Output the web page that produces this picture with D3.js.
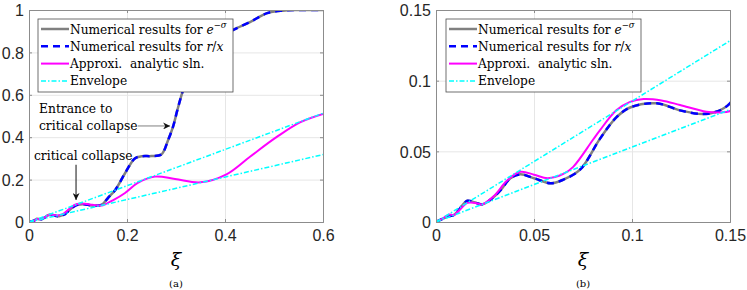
<!DOCTYPE html>
<html>
<head>
<meta charset="utf-8">
<script src="https://cdn.jsdelivr.net/npm/d3@7"></script>
<style>
  body { margin: 0; background: #fff; }
  svg { display: block; }
</style>
</head>
<body>
<div id="chart"></div>
<script>
// Numerical results (e^-sigma and r/x coincide)
const numXi = [0, 0.003, 0.0065, 0.0092, 0.011, 0.016, 0.0194, 0.0236, 0.0287, 0.033, 0.038, 0.043, 0.05,
  0.0585, 0.065, 0.0735, 0.0837, 0.092, 0.099, 0.1126, 0.1245, 0.136, 0.143, 0.15, 0.161, 0.176, 0.196,
  0.216, 0.23, 0.25, 0.27, 0.284, 0.294, 0.303, 0.314, 0.33, 0.35, 0.37, 0.39, 0.416, 0.451, 0.486, 0.518,
  0.55, 0.6];
const numVal = [0, 0.002, 0.004, 0.005, 0.0075, 0.015, 0.014, 0.0125, 0.0168, 0.0226, 0.031, 0.0337, 0.031,
  0.0274, 0.030, 0.037, 0.059, 0.074, 0.081, 0.084, 0.079, 0.0764, 0.078, 0.084, 0.113, 0.151, 0.23,
  0.30, 0.31, 0.311, 0.318, 0.387, 0.45, 0.53, 0.62, 0.73, 0.81, 0.85, 0.87, 0.905, 0.943, 0.985, 0.997,
  1.0, 1.0];

// Approximate analytic solution
const anaXi = [0, 0.004, 0.0065, 0.0092, 0.012, 0.016, 0.02, 0.0236, 0.03, 0.036, 0.043, 0.05, 0.057,
  0.065, 0.07, 0.08, 0.0837, 0.092, 0.099, 0.106, 0.115, 0.1245, 0.138, 0.145, 0.151, 0.172, 0.196,
  0.222, 0.257, 0.298, 0.35, 0.403, 0.451, 0.505, 0.553, 0.6];
const anaVal = [0, 0.003, 0.0052, 0.005, 0.0085, 0.0135, 0.0135, 0.0125, 0.019, 0.029, 0.0355, 0.0335, 0.031,
  0.034, 0.039, 0.058, 0.065, 0.079, 0.085, 0.087, 0.086, 0.0828, 0.078, 0.0775, 0.079, 0.103, 0.137,
  0.184, 0.214, 0.203, 0.187, 0.225, 0.308, 0.40, 0.47, 0.51];

// Envelope lines
const envXi = [0, 0.6];
const envUpper = [0, 0.513];
const envLower = [0, 0.318];

const panels = [
  { id: "a", left: 29, xMax: 0.6, yMax: 1, xTicks: [0, 0.2, 0.4, 0.6], yTicks: [0, 0.2, 0.4, 0.6, 0.8, 1],
    legendX: 38, annotations: true },
  { id: "b", left: 436, xMax: 0.15, yMax: 0.15, xTicks: [0, 0.05, 0.1, 0.15], yTicks: [0, 0.05, 0.1, 0.15],
    legendX: 446, annotations: false }
];

const W = 747, H = 290;
const plotW = 294, plotTop = 10, plotH = 212;
const axisColor = "#8c8c8c";
const textColor = "#262626";
const SERIF = "DejaVu Serif";
const SANS = "Liberation Sans";

const svg = d3.select("#chart").append("svg")
  .attr("width", W)
  .attr("height", H);

const defs = svg.append("defs");
defs.append("marker")
  .attr("id", "arrowHead")
  .attr("viewBox", "0 0 10 10")
  .attr("refX", 10)
  .attr("refY", 5)
  .attr("markerWidth", 9)
  .attr("markerHeight", 7)
  .attr("markerUnits", "userSpaceOnUse")
  .attr("orient", "auto")
  .append("path")
  .attr("d", "M0,0 L10,5 L0,10 L3,5 Z")
  .attr("fill", "#111");

const series = [
  { label: "num", xs: numXi, ys: numVal, color: "#808080", width: 2.5, dash: null },
  { label: "rx", xs: numXi, ys: numVal, color: "#0000ff", width: 2.5, dash: "7,5" },
  { label: "ana", xs: anaXi, ys: anaVal, color: "#ff00ff", width: 2, dash: null },
  { label: "envU", xs: envXi, ys: envUpper, color: "#00ffff", width: 1.5, dash: "5,2,1.5,2" },
  { label: "envL", xs: envXi, ys: envLower, color: "#00ffff", width: 1.5, dash: "5,2,1.5,2" }
];

panels.forEach(p => {
  const x = d3.scaleLinear().domain([0, p.xMax]).range([p.left, p.left + plotW]);
  const y = d3.scaleLinear().domain([0, p.yMax]).range([plotTop + plotH, plotTop]);
  const g = svg.append("g");

  defs.append("clipPath")
    .attr("id", `clip-${p.id}`)
    .append("rect")
    .attr("x", p.left)
    .attr("y", plotTop)
    .attr("width", plotW)
    .attr("height", plotH);

  // grid
  g.append("g")
    .attr("transform", `translate(0,${plotTop + plotH})`)
    .call(d3.axisBottom(x).tickValues(p.xTicks).tickSize(-plotH).tickFormat(""))
    .call(a => a.select(".domain").remove())
    .selectAll("line").attr("stroke", "#e6e6e6").attr("stroke-width", 1);
  g.append("g")
    .attr("transform", `translate(${p.left},0)`)
    .call(d3.axisLeft(y).tickValues(p.yTicks).tickSize(-plotW).tickFormat(""))
    .call(a => a.select(".domain").remove())
    .selectAll("line").attr("stroke", "#e6e6e6").attr("stroke-width", 1);

  // curves
  const plot = g.append("g").attr("clip-path", `url(#clip-${p.id})`);
  series.forEach(s => {
    const pts = s.xs.map((xi, i) => [xi, s.ys[i]]);
    const line = d3.line()
      .x(d => x(d[0]))
      .y(d => y(d[1]))
      .curve(s.xs.length > 2 ? d3.curveCatmullRom.alpha(0.5) : d3.curveLinear);
    plot.append("path")
      .datum(pts)
      .attr("fill", "none")
      .attr("stroke", s.color)
      .attr("stroke-width", s.width)
      .attr("stroke-dasharray", s.dash)
      .attr("d", line);
  });

  // axes with inward ticks (box style)
  const fmt = d => d3.format("")(+d.toFixed(3));
  const axes = g.append("g");
  const xAxis = axes.append("g")
    .attr("transform", `translate(0,${plotTop + plotH})`)
    .call(d3.axisBottom(x).tickValues(p.xTicks).tickSize(-3).tickPadding(8).tickFormat(fmt));
  const yAxis = axes.append("g")
    .attr("transform", `translate(${p.left},0)`)
    .call(d3.axisLeft(y).tickValues(p.yTicks).tickSize(-3).tickPadding(5).tickFormat(fmt));
  axes.append("g")
    .attr("transform", `translate(0,${plotTop})`)
    .call(d3.axisTop(x).tickValues(p.xTicks).tickSize(-3).tickFormat(""));
  axes.append("g")
    .attr("transform", `translate(${p.left + plotW},0)`)
    .call(d3.axisRight(y).tickValues(p.yTicks).tickSize(-3).tickFormat(""));
  axes.selectAll(".domain, .tick line").attr("stroke", axisColor);
  [xAxis, yAxis].forEach(a => a
    .attr("font-family", SANS)
    .attr("font-size", 16)
    .selectAll("text")
    .attr("fill", textColor));
  yAxis.selectAll("text").attr("dy", "0.36em");

  // axis label and caption
  g.append("text")
    .attr("x", p.left + plotW / 2)
    .attr("y", 266)
    .attr("text-anchor", "middle")
    .attr("font-family", SERIF)
    .attr("font-style", "italic")
    .attr("font-size", 19)
    .attr("fill", "#000")
    .text("ξ");
  g.append("text")
    .attr("x", p.left + plotW / 2)
    .attr("y", 287)
    .attr("text-anchor", "middle")
    .attr("font-family", SERIF)
    .attr("font-size", 10)
    .attr("fill", "#000")
    .text(`(${p.id})`);

  // legend
  const lg = g.append("g").attr("transform", `translate(${p.legendX},19)`);
  lg.append("rect")
    .attr("width", 195)
    .attr("height", 73)
    .attr("fill", "#fff")
    .attr("stroke", "#4d4d4d")
    .attr("stroke-width", 0.8);
  const rows = [
    { s: series[0], text: t => { t.append("tspan").text("Numerical results for ");
        t.append("tspan").attr("font-style", "italic").text("e");
        t.append("tspan").attr("dy", -6).attr("font-size", 8.5).text("−");
        t.append("tspan").attr("font-style", "italic").attr("font-size", 8.5).text("σ"); } },
    { s: series[1], text: t => { t.append("tspan").text("Numerical results for ");
        t.append("tspan").attr("font-style", "italic").text("r");
        t.append("tspan").text("/");
        t.append("tspan").attr("font-style", "italic").text("x"); } },
    { s: series[2], text: t => t.text("Approxi.\u00a0 analytic sln.") },
    { s: series[3], text: t => t.text("Envelope") }
  ];
  rows.forEach((r, i) => {
    const yy = 10 + i * 17.3;
    lg.append("line")
      .attr("x1", 3).attr("x2", 31)
      .attr("y1", yy).attr("y2", yy)
      .attr("stroke", r.s.color)
      .attr("stroke-width", r.s.width)
      .attr("stroke-dasharray", r.s.dash);
    const t = lg.append("text")
      .attr("x", 32)
      .attr("y", yy + 4.5)
      .attr("font-family", SERIF)
      .attr("font-size", 12.2)
      .attr("fill", "#000");
    r.text(t);
  });

  // annotations
  if (p.annotations) {
    const notes = [
      { lines: ["Entrance to", "critical collapse"], tx: 0.0204, ty: 0.514, from: [0.222, 0.453], to: [0.288, 0.453] },
      { lines: ["critical collapse"], tx: 0.0102, ty: 0.292, from: [0.096, 0.27], to: [0.096, 0.104] }
    ];
    notes.forEach(n => {
      n.lines.forEach((l, i) => {
        g.append("text")
          .attr("x", x(n.tx))
          .attr("y", y(n.ty) + i * 17)
          .attr("font-family", SERIF)
          .attr("font-size", 12.3)
          .attr("fill", "#000")
          .text(l);
      });
      g.append("line")
        .attr("x1", x(n.from[0])).attr("y1", y(n.from[1]))
        .attr("x2", x(n.to[0])).attr("y2", y(n.to[1]))
        .attr("stroke", n.lines.length > 1 ? "#808080" : "#111")
        .attr("stroke-width", 1)
        .attr("marker-end", "url(#arrowHead)");
    });
  }
});
</script>
</body>
</html>
